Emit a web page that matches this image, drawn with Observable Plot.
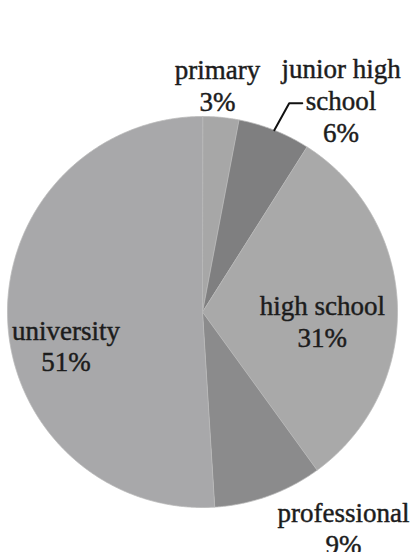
<!DOCTYPE html>
<html><head><meta charset="utf-8">
<script src="https://cdn.jsdelivr.net/npm/d3@7"></script>
<script src="https://cdn.jsdelivr.net/npm/@observablehq/plot@0.6"></script>
<style>html,body{margin:0;padding:0;background:#fff;overflow:hidden}</style>
</head><body><div id="chart"></div>
<script>
// ---- data ----
const categories = ["primary", "junior high school", "high school", "professional", "university"];
const labelLines = ["primary", "junior high\nschool", "high school", "professional", "university"];
const shares = [3, 6, 31, 9, 51];
const sliceColors = ["#a7a7a7", "#7f7f80", "#a9a9a9", "#8b8b8c", "#a8a8aa"];

// ---- layout (label placement: radius factor along mid-angle + pixel nudge) ----
const labelLayout = [
  {rf: 1.15, dx: -6, dy: -3},
  {rf: 1.15, dx: 56, dy: -3},
  {rf: 0.62, dx: -1, dy: 13},
  {rf: 1.15, dx: 65, dy: 4},
  {rf: 0.70, dx: 0, dy: 29}
];

const total = d3.sum(shares);
let acc = 0;
const slices = categories.map((c, i) => {
  const a0 = acc / total * 2 * Math.PI;
  acc += shares[i];
  const a1 = acc / total * 2 * Math.PI;
  return {c, i, a0, a1, mid: (a0 + a1) / 2, label: labelLines[i] + "\n" + shares[i] + "%"};
});
const polar = (a, r) => ({x: r * Math.sin(a), y: r * Math.cos(a)});

const poly = slices.flatMap(s => {
  const n = Math.max(2, Math.ceil((s.a1 - s.a0) / 0.005));
  const pts = [{...polar(0, 0), c: s.c}];
  for (let k = 0; k <= n; k++) pts.push({...polar(s.a0 + (s.a1 - s.a0) * k / n, 1), c: s.c});
  return pts;
});

// leader line for the junior high slice
const js = slices[1];
const p0 = polar(js.mid, 1.0);
const p1 = polar(js.mid + Math.PI / 180, 1.157);
const leader = [p0, p1, {x: p1.x + 0.067, y: p1.y}];

const textMarks = slices.map((s, i) => {
  const L = labelLayout[i];
  return Plot.text([s], {
    x: d => polar(d.mid, L.rf).x,
    y: d => polar(d.mid, L.rf).y,
    text: "label",
    dx: L.dx, dy: L.dy,
    fontFamily: "Liberation Serif, Times New Roman, serif",
    fontSize: 27,
    lineHeight: 1.18,
    fill: "#1c1c1c",
    stroke: "#1c1c1c",
    strokeWidth: 0.45,
    textAnchor: "middle"
  });
});

const chart = Plot.plot({
  width: 411,
  height: 552,
  margin: 0,
  style: {background: "#fff", overflow: "visible"},
  x: {domain: [-1, 1], range: [7, 397], axis: null},
  y: {domain: [-1, 1], range: [507, 116], axis: null},
  color: {domain: categories, range: sliceColors},
  marks: [
    Plot.line(poly, {x: "x", y: "y", z: "c", fill: "c", stroke: "#b9b9b9", strokeWidth: 0.8, curve: "linear-closed"}),
    Plot.line(leader, {x: "x", y: "y", stroke: "#111", strokeWidth: 2}),
    ...textMarks
  ]
});
document.getElementById("chart").append(chart);
</script>
</body></html>
